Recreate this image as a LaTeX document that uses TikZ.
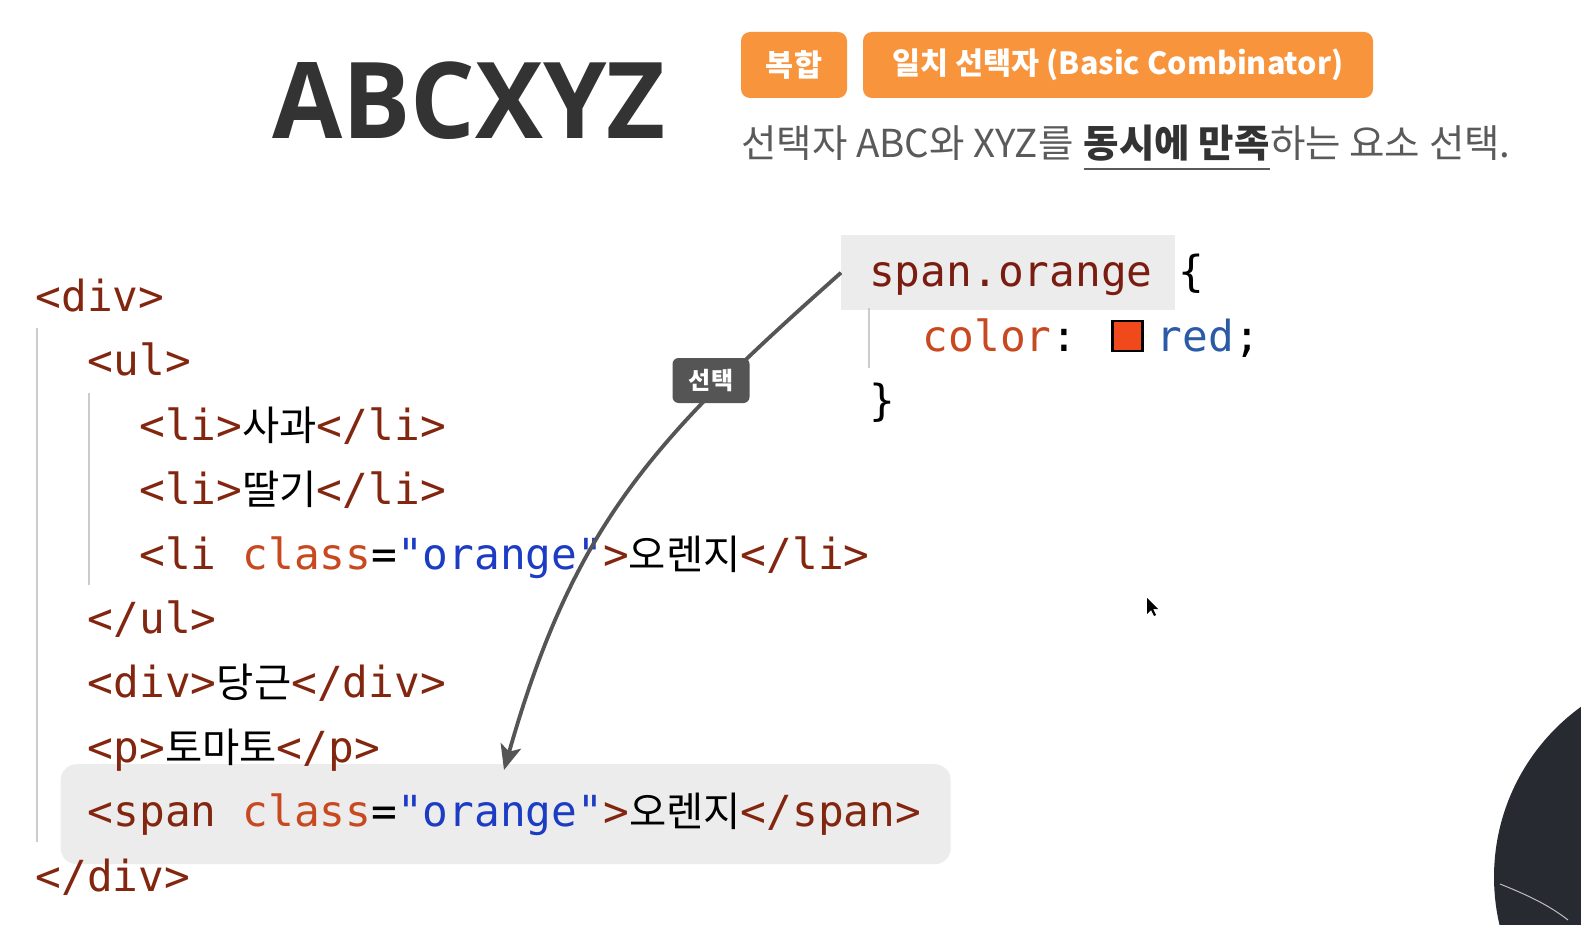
\documentclass[tikz,border=0pt]{standalone}
\usepackage{fontspec}
\setmainfont{Noto Sans CJK KR}
\newfontfamily\kr{Noto Sans CJK KR}
\newfontfamily\mono{DejaVu Sans Mono}
\newfontfamily\ttl{Open Sans}
\usetikzlibrary{arrows.meta}
\definecolor{tagc}{HTML}{83260F}
\definecolor{attrc}{HTML}{C8481F}
\definecolor{strc}{HTML}{1C3CC4}
\definecolor{valc}{HTML}{2B5BA6}
\definecolor{selc}{HTML}{7A1D10}
\definecolor{badgec}{HTML}{F7943C}
\definecolor{hlc}{HTML}{ECECEC}
\definecolor{guidec}{HTML}{CCCCCC}
\definecolor{arrowc}{HTML}{555555}
\definecolor{subc}{HTML}{5A5A5A}
\definecolor{swatchc}{HTML}{F04A1C}
\definecolor{darkc}{HTML}{272A30}
\newcommand\tg[1]{\textcolor{tagc}{#1}}
\newcommand\at[1]{\textcolor{attrc}{#1}}
\newcommand\st[1]{\textcolor{strc}{#1}}
\newcommand\ko[1]{{\kr\fontsize{40.5}{44}\selectfont #1}}
\tikzset{
  codeline/.style={anchor=base west, inner sep=0pt, font=\mono\fontsize{42.8}{50}\selectfont},
  guide/.style={draw=guidec, line width=2pt},
  hlbox/.style={fill=hlc, draw=none},
  badge/.style={fill=badgec, rounded corners=9pt, text=white, inner sep=0pt, font=\kr\bfseries\fontsize{30.5}{33}\selectfont},
  sub/.style={anchor=base west, inner sep=0pt, text=subc, font=\kr\fontsize{38.5}{42}\selectfont},
  arr/.style={draw=arrowc, line width=3.8pt, -{Stealth[length=25pt,width=21pt,inset=6pt]}},
  lbl/.style={fill=arrowc, rounded corners=6pt, text=white, inner sep=0pt, minimum width=77pt, minimum height=45pt, font=\kr\bfseries\fontsize{24}{26}\selectfont}
}
\begin{document}
\begin{tikzpicture}[x=1pt,y=-1pt]
\useasboundingbox (0,0) rectangle (1581,925);
\fill[white] (0,0) rectangle (1581,925);
% webcam circle
\begin{scope}
\clip (0,0) rectangle (1581,925);
\fill[darkc] (1704,877) circle[radius=210pt];
\draw[gray!50, line width=1pt] (1500,884) .. controls (1530,896) and (1550,906) .. (1568,920);
\end{scope}
% title
\node[anchor=base west, inner sep=0pt, text=black!80, xscale=0.96, font=\ttl\bfseries\fontsize{106}{116}\selectfont] (title) at (272,139) {ABCXYZ};
% badges
\node[badge, minimum width=106pt, minimum height=66pt] (b1) at (794,65) {복합};
\node[badge, minimum width=510pt, minimum height=66pt] (b2) at (1118,65) {일치 선택자 (Basic Combinator)};
% subtitle
\node[sub] (s1) at (741,158) {선택자 ABC와 XYZ를};
\node[sub, text=black!80, font=\kr\bfseries\fontsize{38.5}{42}\selectfont] (s2) at ([xshift=10pt]s1.base east) {동시에 만족};
\node[sub] (s3) at (s2.base east) {하는 요소 선택.};
\draw[subc, line width=2pt] ([yshift=-11.5pt]s2.base west) -- ([yshift=-11.5pt]s2.base east);
% highlight boxes
\node[hlbox, rounded corners=16pt, minimum width=890pt, minimum height=100pt, anchor=north west, inner sep=0pt] (spanbox) at (60.5,764) {};
\node[hlbox, minimum width=334pt, minimum height=75pt, anchor=north west, inner sep=0pt] (cssbox) at (841,235) {};
% guides
\draw[guide] (37.3,328) coordinate (g1a) -- (37.3,842) coordinate (g1b);
\draw[guide] (88.7,393) coordinate (g2a) -- (88.7,585) coordinate (g2b);
\draw[guide] (869,308) coordinate (g3a) -- (869,368) coordinate (g3b);
% html code
\node[codeline] (l0) at (35.3,311.5) {\tg{<div>}};
\node[codeline] (l1) at (87.7,375.9) {\tg{<ul>}};
\node[codeline] (l2) at (139.2,440.3) {\tg{<li>}\ko{사과}\tg{</li>}};
\node[codeline] (l3) at (139.2,504.7) {\tg{<li>}\ko{딸기}\tg{</li>}};
\node[codeline] (l4) at (139.2,569.1) {\tg{<li }\at{class}=\st{"orange"}\tg{>}\ko{오렌지}\tg{</li>}};
\node[codeline] (l5) at (87.7,633.5) {\tg{</ul>}};
\node[codeline] (l6) at (87.7,697.9) {\tg{<div>}\ko{당근}\tg{</div>}};
\node[codeline] (l7) at (87.7,762.3) {\tg{<p>}\ko{토마토}\tg{</p>}};
\node[codeline] (l8) at (87.7,826.7) {\tg{<span }\at{class}=\st{"orange"}\tg{>}\ko{오렌지}\tg{</span>}};
\node[codeline] (l9) at (35.3,891.1) {\tg{</div>}};
% css code
\node[codeline] (c0) at (869,287) {\textcolor{selc}{span.orange} \{};
\node[codeline] (c1) at (922.6,351) {\textcolor{attrc}{color}:};
\node[draw=black, line width=2.5pt, fill=swatchc, minimum size=30pt, inner sep=0pt] (sw) at (1127.6,335.8) {};
\node[codeline] (c2) at (1156.5,351) {\textcolor{valc}{red};};
\node[codeline] (c3) at (869,415) {\}};
% arrow
\coordinate (tip) at (504,770);
\draw[arr] (cssbox.west) .. controls (653.5,439) and (574,524) .. (tip);
\node[lbl] (sel) at (711,380.5) {선택};
% cursor
\fill[black] (1147,598) coordinate (cur) -- ++(0,16) -- ++(4,-4) -- ++(3,6) -- ++(2,-1) -- ++(-3,-6) -- ++(5,0) -- cycle;
\end{tikzpicture}
\end{document}
